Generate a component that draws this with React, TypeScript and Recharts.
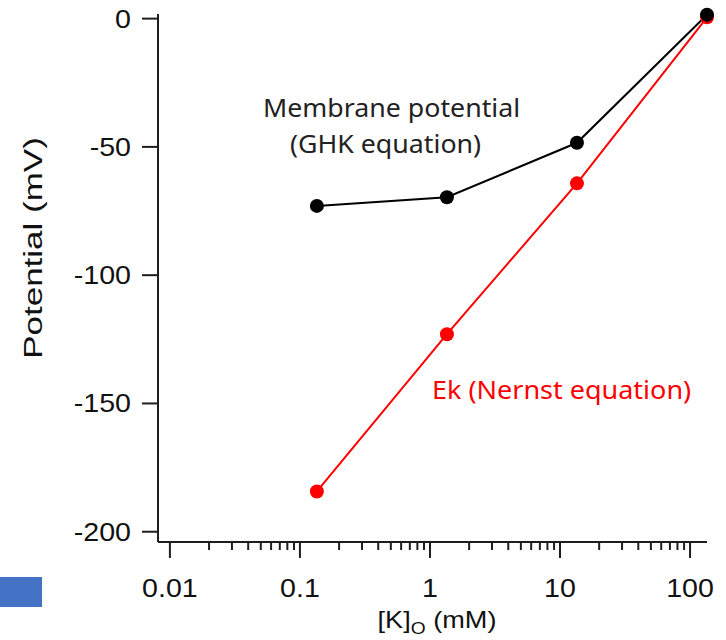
import React from 'react';
import { LineChart, Line, XAxis, YAxis, Customized, Label } from 'recharts';

// [K]o concentrations (mM)
const concentrations = [0.135, 1.35, 13.5, 135];
// Membrane potential (GHK equation), mV
const ghkPotential = [-73, -69.6, -48.4, 1.5];
// Ek (Nernst equation), mV
const nernstPotential = [-184.3, -123, -64.2, 0.5];

const majorXTicks = [0.01, 0.1, 1, 10, 100];
const xTickLabels = ['0.01', '0.1', '1', '10', '100'];
const minorXTicks = [
  0.02, 0.03, 0.04, 0.05, 0.06, 0.07, 0.08, 0.09,
  0.2, 0.3, 0.4, 0.5, 0.6, 0.7, 0.8, 0.9,
  2, 3, 4, 5, 6, 7, 8, 9,
  20, 30, 40, 50, 60, 70, 80, 90,
];
const yTicks = [-200, -150, -100, -50, 0];
const yTickLabels = ['-200', '-150', '-100', '-50', '0'];

const data = concentrations.map((k, i) => ({
  k,
  ghk: ghkPotential[i],
  ek: nernstPotential[i],
}));

const allXTicks = [...majorXTicks, ...minorXTicks].sort((a, b) => a - b);

const AXIS_FONT = '"Liberation Sans", Arial, sans-serif';
const NOTE_FONT = '"Noto Sans", sans-serif';
const AXIS_COLOR = '#1e1e1e';
const TEXT_COLOR = '#111';

const WideText = ({ x, y, sx = 1, rotate = 0, anchor = 'start', size = 24, fill = TEXT_COLOR, family = AXIS_FONT, children }: any) => (
  <text
    transform={`translate(${x}, ${y}) rotate(${rotate}) scale(${sx}, 1)`}
    x={0}
    y={0}
    textAnchor={anchor}
    fontSize={size}
    fill={fill}
    fontFamily={family}
  >
    {children}
  </text>
);

const XTick = (props: any) => {
  const { x, y, payload } = props;
  const v = payload.value;
  const idx = majorXTicks.findIndex((m) => Math.abs(m - v) < 1e-9);
  const major = idx >= 0;
  return (
    <g>
      <line x1={x} x2={x} y1={y} y2={y + (major ? 16 : 8)} stroke={AXIS_COLOR} strokeWidth={2} />
      {major && (
        <WideText x={x} y={y + 55} sx={1.1} anchor="middle" size={26}>
          {xTickLabels[idx]}
        </WideText>
      )}
    </g>
  );
};

const YTick = (props: any) => {
  const { x, y, payload } = props;
  const idx = yTicks.findIndex((m) => Math.abs(m - payload.value) < 1e-9);
  return (
    <WideText x={x} y={y + 9} sx={1.1} anchor="end" size={26}>
      {yTickLabels[idx]}
    </WideText>
  );
};

const YLabel = () => {
  const cx = 42;
  const cy = 248;
  return (
    <WideText x={cx} y={cy} sx={1.4} rotate={-90} anchor="middle" size={25}>
      Potential (mV)
    </WideText>
  );
};

const XLabel = () => (
  <WideText x={437} y={628} sx={1.13} anchor="middle" size={24}>
    [K]
    <tspan fontSize={17} dy={6}>O</tspan>
    <tspan dy={-6}> (mM)</tspan>
  </WideText>
);

const Annotations = () => (
  <g>
    <WideText x={263} y={117} sx={1.07} size={25} fill="#222" family={NOTE_FONT}>
      Membrane potential
    </WideText>
    <WideText x={290} y={153} sx={1.07} size={25} fill="#222" family={NOTE_FONT}>
      (GHK equation)
    </WideText>
    <WideText x={432} y={399} sx={1.08} size={25} fill="#ff0000" family={NOTE_FONT}>
      Ek (Nernst equation)
    </WideText>
    <rect x={0} y={577} width={42} height={30} fill="#4472C4" />
  </g>
);

export default function App() {
  return (
    <div style={{ position: 'absolute', left: 0, top: 0, background: '#fff' }}>
      <LineChart
        width={726}
        height={640}
        data={data}
        margin={{ top: 14, right: 19, bottom: 0, left: 0 }}
      >
        <XAxis
          dataKey="k"
          type="number"
          scale="log"
          domain={[0.0081, 135]}
          ticks={allXTicks}
          interval={0}
          tick={<XTick />}
          tickLine={false}
          tickSize={0}
          tickMargin={0}
          height={98}
          axisLine={{ stroke: AXIS_COLOR, strokeWidth: 2 }}
        >
          <Label content={<XLabel />} />
        </XAxis>
        <YAxis
          type="number"
          domain={[-204, 1.8]}
          ticks={yTicks}
          interval={0}
          width={158}
          tickSize={16}
          tickMargin={11}
          tick={<YTick />}
          tickLine={{ stroke: AXIS_COLOR, strokeWidth: 2 }}
          axisLine={{ stroke: AXIS_COLOR, strokeWidth: 2 }}
        >
          <Label content={<YLabel />} />
        </YAxis>
        <Line
          dataKey="ek"
          stroke="#ff0000"
          strokeWidth={2}
          dot={{ r: 7, fill: '#ff0000', stroke: '#ff0000', strokeWidth: 0 }}
          isAnimationActive={false}
        />
        <Line
          dataKey="ghk"
          stroke="#000"
          strokeWidth={2}
          dot={{ r: 7, fill: '#000', stroke: '#000', strokeWidth: 0 }}
          isAnimationActive={false}
        />
        <Customized component={<Annotations />} />
      </LineChart>
    </div>
  );
}
